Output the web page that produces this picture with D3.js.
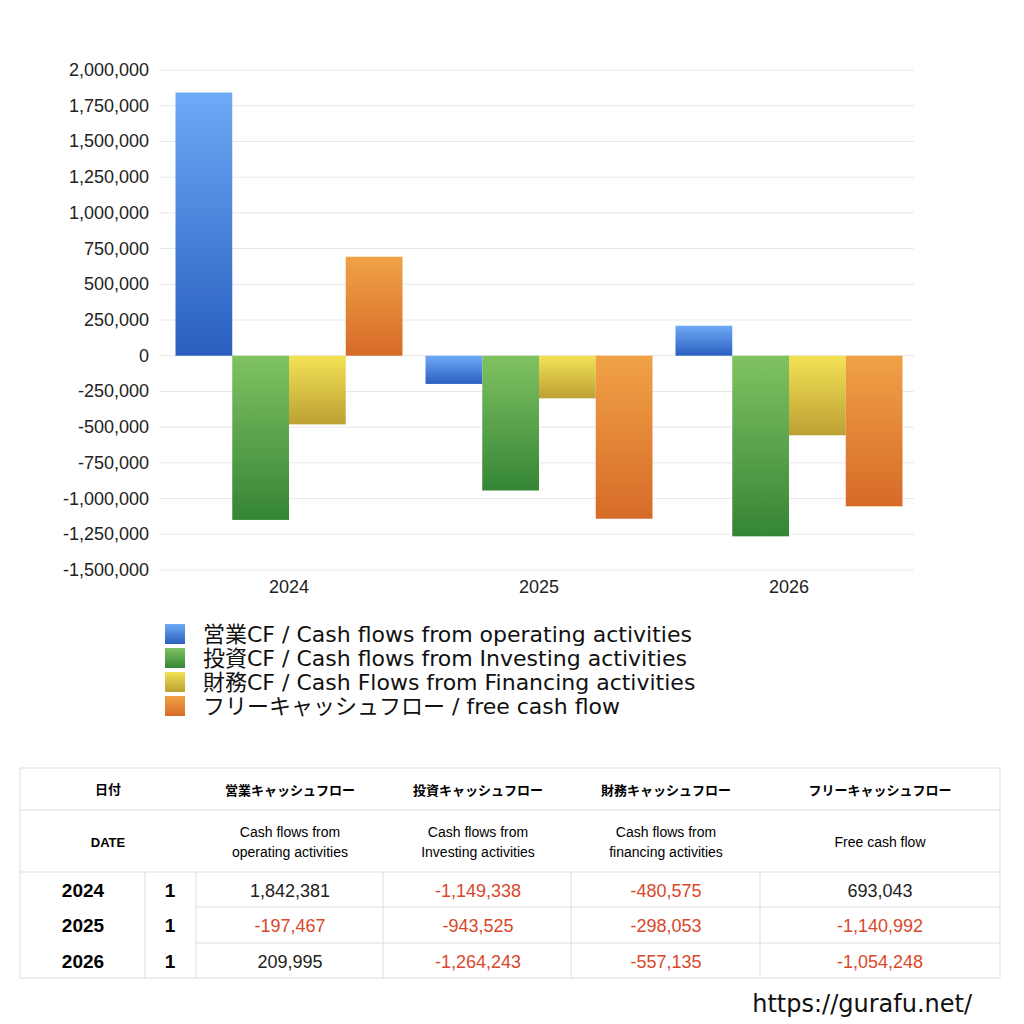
<!DOCTYPE html>
<html><head><meta charset="utf-8">
<script src="https://cdn.jsdelivr.net/npm/d3@7"></script>
<style>body{margin:0;background:#fff;font-family:"Noto Sans CJK JP","Noto Sans",sans-serif}</style>
</head><body><svg id="c" width="1024" height="1024"></svg>
<script>
const years = ["2024","2025","2026"];
const seriesNames = ["営業CF / Cash flows from operating activities","投資CF / Cash flows from Investing activities","財務CF / Cash Flows from Financing activities","フリーキャッシュフロー / free cash flow"];
const operating = [1842381,-197467,209995];
const investing = [-1149338,-943525,-1264243];
const financing = [-480575,-298053,-557135];
const freeCF = [693043,-1140992,-1054248];
const yTicks = [2000000,1750000,1500000,1250000,1000000,750000,500000,250000,0,-250000,-500000,-750000,-1000000,-1250000,-1500000];
const headJa = ["営業キャッシュフロー","投資キャッシュフロー","財務キャッシュフロー","フリーキャッシュフロー"];
const headEn = [["Cash flows from","operating activities"],["Cash flows from","Investing activities"],["Cash flows from","financing activities"],["Free cash flow"]];
const series = [operating,investing,financing,freeCF];
const grads = [["#6eaaf6","#2a5fc0"],["#80c262","#358535"],["#f3e255","#bca034"],["#f0a246","#d66a28"]];

const svg = d3.select("#c");
const defs = svg.append("defs");
grads.forEach((g,i)=>{const lg=defs.append("linearGradient").attr("id","g"+i).attr("x1",0).attr("y1",0).attr("x2",0).attr("y2",1);
 lg.append("stop").attr("offset","0%").attr("stop-color",g[0]);lg.append("stop").attr("offset","100%").attr("stop-color",g[1]);});

const y = d3.scaleLinear().domain([-1500000,2000000]).range([570,70]);
const x0 = d3.scaleBand().domain(years).range([164,914]).paddingInner(0).paddingOuter(0);
const x1 = d3.scaleBand().domain([0,1,2,3]).range([11.5,x0.bandwidth()-11.5]);
const fmt = d => d3.format(",")(d).replace("−","-");

svg.append("g").selectAll("line").data(yTicks).join("line")
 .attr("x1",160).attr("x2",914).attr("y1",d=>y(d)).attr("y2",d=>y(d)).attr("stroke","#e8e8e8");
svg.append("g").selectAll("text").data(yTicks).join("text")
 .attr("x",149).attr("y",d=>y(d)+6).attr("text-anchor","end").attr("font-size",18).attr("fill","#222")
 .attr("font-family","Liberation Sans, Arial").text(d=>fmt(d));
svg.append("g").selectAll("text").data(years).join("text")
 .attr("x",d=>x0(d)+x0.bandwidth()/2).attr("y",593).attr("text-anchor","middle").attr("font-size",18)
 .attr("font-family","Liberation Sans, Arial").attr("fill","#222").text(d=>d);

series.forEach((s,si)=>{
 svg.append("g").selectAll("rect").data(s).join("rect")
  .attr("x",(d,i)=>x0(years[i])+x1(si)).attr("width",x1.bandwidth())
  .attr("y",d=>y(Math.max(0,d))).attr("height",d=>Math.abs(y(d)-y(0)))
  .attr("fill","url(#g"+si+")");
});

// legend
seriesNames.forEach((n,i)=>{
 const yy=634+i*24;
 svg.append("rect").attr("x",165).attr("y",yy-10).attr("width",20).attr("height",20).attr("fill","url(#g"+i+")");
 svg.append("text").attr("x",203).attr("y",yy+8).attr("font-size",22).attr("fill","#111")
  .attr("font-family","DejaVu Sans, Noto Sans CJK JP").text(n);
});

// table
const tb = svg.append("g");
const rowY=[768,810,872,907,943,978];
const ln=(a,b,c,d)=>tb.append("line").attr("x1",a).attr("y1",b).attr("x2",c).attr("y2",d).attr("stroke","#ddd");
ln(20,768,1000,768);ln(20,810,1000,810);ln(20,872,1000,872);ln(20,978,1000,978);
ln(196,907,1000,907);ln(196,943,1000,943);
ln(20,768,20,978);ln(1000,768,1000,978);
[145,196,383,571,760].forEach(cx=>ln(cx,872,cx,978));
tb.append("text").attr("x",108).attr("y",794).attr("text-anchor","middle").attr("font-size",13).attr("font-weight","bold").text("日付");
tb.append("text").attr("x",108).attr("y",847).attr("text-anchor","middle").attr("font-size",13).attr("font-weight","bold").attr("font-family","Liberation Sans, Arial").text("DATE");
const cc=[290,478,666,880];
headJa.forEach((h,i)=>tb.append("text").attr("x",cc[i]).attr("y",795).attr("text-anchor","middle").attr("font-size",13).attr("font-weight","bold").text(h));
headEn.forEach((h,i)=>h.forEach((t,j)=>tb.append("text").attr("x",cc[i]).attr("y",(h.length==1?847:837+j*20)).attr("text-anchor","middle").attr("font-size",14).attr("font-weight","500").attr("font-family","Liberation Sans, Arial").text(t)));
years.forEach((yr,r)=>{
 const yy=(rowY[r+2]+rowY[r+3])/2+7;
 tb.append("text").attr("x",83).attr("y",yy).attr("text-anchor","middle").attr("font-size",19).attr("font-weight","bold").attr("font-family","Liberation Sans, Arial").text(yr);
 tb.append("text").attr("x",170).attr("y",yy).attr("text-anchor","middle").attr("font-size",19).attr("font-weight","bold").attr("font-family","Liberation Sans, Arial").text("1");
 series.forEach((s,si)=>tb.append("text").attr("x",cc[si]).attr("y",yy).attr("text-anchor","middle").attr("font-size",18)
  .attr("font-family","Liberation Sans, Arial").attr("fill",s[r]<0?"#d9482b":"#222").text(fmt(s[r])));
});
svg.append("text").attr("x",972).attr("y",1012).attr("text-anchor","end").attr("font-size",24).attr("font-family","DejaVu Sans").attr("fill","#111").text("https://gurafu.net/");
</script></body></html>
